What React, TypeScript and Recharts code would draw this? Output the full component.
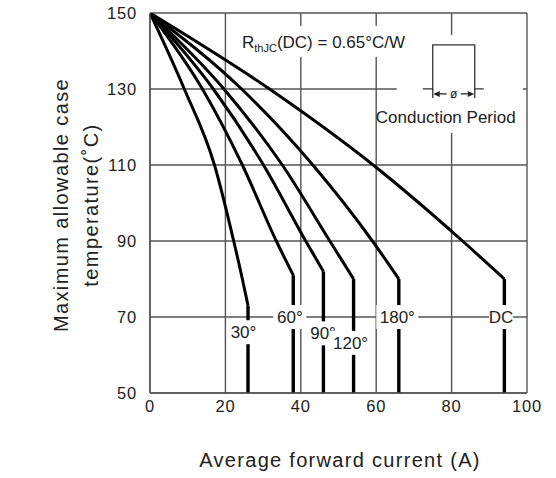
import { CartesianGrid, Line, LineChart, ReferenceDot, XAxis, YAxis } from "recharts";

const FONT = "'Liberation Sans', Arial, sans-serif";
const INK = "#222";
const GRID = "#555";

const X_TICKS = [0, 20, 40, 60, 80, 100];
const Y_TICKS = [50, 70, 90, 110, 130, 150];

// case temperature steps (°C) and the current (A) read at each, up to the knee
const TEMP_30 = [150, 130, 110, 90, 80, 73];
const AMPS_30 = [0, 9.1, 17.1, 22.2, 24.5, 26];
const TEMP_60 = [150, 130, 110, 90, 81];
const AMPS_60 = [0, 13.9, 24.5, 33.5, 38];
const TEMP_90 = [150, 130, 110, 90, 82];
const AMPS_90 = [0, 16.8, 30.1, 41.3, 46];
const TEMP_120 = [150, 130, 110, 90, 80];
const AMPS_120 = [0, 19.6, 35.1, 47.7, 54];
const TEMP_180 = [150, 130, 110, 90, 80];
const AMPS_180 = [0, 24.3, 43.2, 59, 66];
const TEMP_DC = [150, 130, 110, 90, 80];
const AMPS_DC = [0, 31.7, 59.2, 82.9, 94];

// below the knee every curve drops straight to 50 °C
const FLOOR_TEMP = 50;

const CURVE_NAMES = ["30°", "60°", "90°", "120°", "180°", "DC"];
const CURVE_TEMPS = [TEMP_30, TEMP_60, TEMP_90, TEMP_120, TEMP_180, TEMP_DC];
const CURVE_AMPS = [AMPS_30, AMPS_60, AMPS_90, AMPS_120, AMPS_180, AMPS_DC];

// where each curve's tag sits (A, °C)
const TAG_AMPS = [24.8, 37.1, 45.9, 53.2, 65.6, 93.1];
const TAG_TEMPS = [66, 70, 65.7, 63.2, 70, 70];

const curves = CURVE_NAMES.map((name, i) => {
  const temps = CURVE_TEMPS[i];
  const amps = CURVE_AMPS[i];
  const last = temps.length - 1;
  return {
    name,
    bend: temps.map((t, j) => ({ amps: amps[j], temp: t })),
    drop: [
      { amps: amps[last], temp: temps[last] },
      { amps: amps[last], temp: FLOOR_TEMP },
    ],
  };
});

function CurveTag({ cx, cy, text }: { cx?: number; cy?: number; text: string }) {
  if (cx == null || cy == null) return null;
  const w = text.length * 9 + 6;
  return (
    <g>
      <rect x={cx - w / 2} y={cy - 12} width={w} height={24} fill="#fff" />
      <text
        x={cx}
        y={cy}
        dy="0.36em"
        textAnchor="middle"
        fontSize={17}
        fontFamily={FONT}
        fill={INK}
      >
        {text}
      </text>
    </g>
  );
}

function RthNote({ cx, cy }: { cx?: number; cy?: number }) {
  if (cx == null || cy == null) return null;
  return (
    <g>
      <rect x={cx - 4} y={cy - 16} width={174} height={31} fill="#fff" />
      <text x={cx} y={cy + 6} fontSize={17} fontFamily={FONT} fill={INK}>
        R
        <tspan fontSize={11} dy={4}>
          thJC
        </tspan>
        <tspan dy={-4}>(DC) = 0.65°C/W</tspan>
      </text>
    </g>
  );
}

// pulse sketch, anchored at the top-left corner of the pulse
function PulseInset({ cx, cy }: { cx?: number; cy?: number }) {
  if (cx == null || cy == null) return null;
  const ay = 49;
  return (
    <g transform={`translate(${cx},${cy})`}>
      <rect x={-36} y={-10} width={126} height={98} fill="#fff" />
      <path d="M -10 44 H 0 V 0 H 42 V 44 H 51" fill="none" stroke="#333" strokeWidth={1.3} />
      <path d="M 0 44 V 53 M 42 44 V 53" stroke="#333" strokeWidth={1.3} />
      <path d="M 0.5 49 L 7 46 L 7 52 Z M 41.5 49 L 35 46 L 35 52 Z" fill="#222" />
      <path d={`M 7 ${ay} H 14 M 28 ${ay} H 35`} stroke="#222" strokeWidth={1.2} />
      <text x={21} y={ay} dy="0.35em" textAnchor="middle" fontSize={12} fontFamily={FONT} fill={INK}>
        ø
      </text>
      <text x={13} y={72} dy="0.36em" textAnchor="middle" fontSize={17} fontFamily={FONT} fill={INK}>
        Conduction Period
      </text>
    </g>
  );
}

export default function App() {
  return (
    <div style={{ position: "absolute", left: 0, top: 0, width: 556, height: 478, fontFamily: FONT }}>
      <LineChart
        width={556}
        height={478}
        margin={{ top: 13, right: 29, bottom: 0, left: 0 }}
      >
        <CartesianGrid stroke={GRID} strokeWidth={1.4} />
        <XAxis
          dataKey="amps"
          type="number"
          domain={[0, 100]}
          ticks={X_TICKS}
          height={85}
          tickLine={false}
          tickSize={0}
          tickMargin={7}
          axisLine={{ stroke: GRID, strokeWidth: 1.4 }}
          tick={{ fill: INK, fontSize: 16.5, fontFamily: FONT, letterSpacing: 0.8 }}
          allowDataOverflow
        />
        <YAxis
          dataKey="temp"
          type="number"
          domain={[50, 150]}
          ticks={Y_TICKS}
          width={150}
          tickLine={false}
          tickSize={0}
          tickMargin={13}
          axisLine={{ stroke: GRID, strokeWidth: 1.4 }}
          tick={{ fill: INK, fontSize: 16.5, fontFamily: FONT, letterSpacing: 0.8 }}
          allowDataOverflow
        />
        {curves.map((c) => (
          <Line
            key={c.name}
            data={c.bend}
            dataKey="temp"
            type="monotone"
            stroke="#000"
            strokeWidth={3}
            dot={false}
            activeDot={false}
            isAnimationActive={false}
          />
        ))}
        {curves.map((c) => (
          <Line
            key={c.name + "-drop"}
            data={c.drop}
            dataKey="temp"
            type="linear"
            stroke="#000"
            strokeWidth={3.4}
            dot={false}
            activeDot={false}
            isAnimationActive={false}
          />
        ))}
        {CURVE_NAMES.map((name, i) => (
          <ReferenceDot
            key={name}
            x={TAG_AMPS[i]}
            y={TAG_TEMPS[i]}
            r={0}
            shape={(p: any) => <CurveTag cx={p.cx} cy={p.cy} text={name} />}
          />
        ))}
        <ReferenceDot x={75} y={141.6} r={0} shape={(p: any) => <PulseInset cx={p.cx} cy={p.cy} />} />
        <ReferenceDot x={24.4} y={142.4} r={0} shape={(p: any) => <RthNote cx={p.cx} cy={p.cy} />} />
      </LineChart>
      <div
        style={{
          position: "absolute",
          left: 340,
          top: 460,
          transform: "translate(-50%, -50%)",
          whiteSpace: "nowrap",
          fontSize: 20,
          letterSpacing: 1.3,
          color: INK,
        }}
      >
        Average forward current (A)
      </div>
      <div
        style={{
          position: "absolute",
          left: 76,
          top: 205,
          transform: "translate(-50%, -50%) rotate(-90deg)",
          whiteSpace: "nowrap",
          textAlign: "center",
          fontSize: 20,
          lineHeight: "30px",
          letterSpacing: 1.4,
          color: INK,
        }}
      >
        Maximum allowable case
        <br />
        temperature(˚C)
      </div>
    </div>
  );
}
